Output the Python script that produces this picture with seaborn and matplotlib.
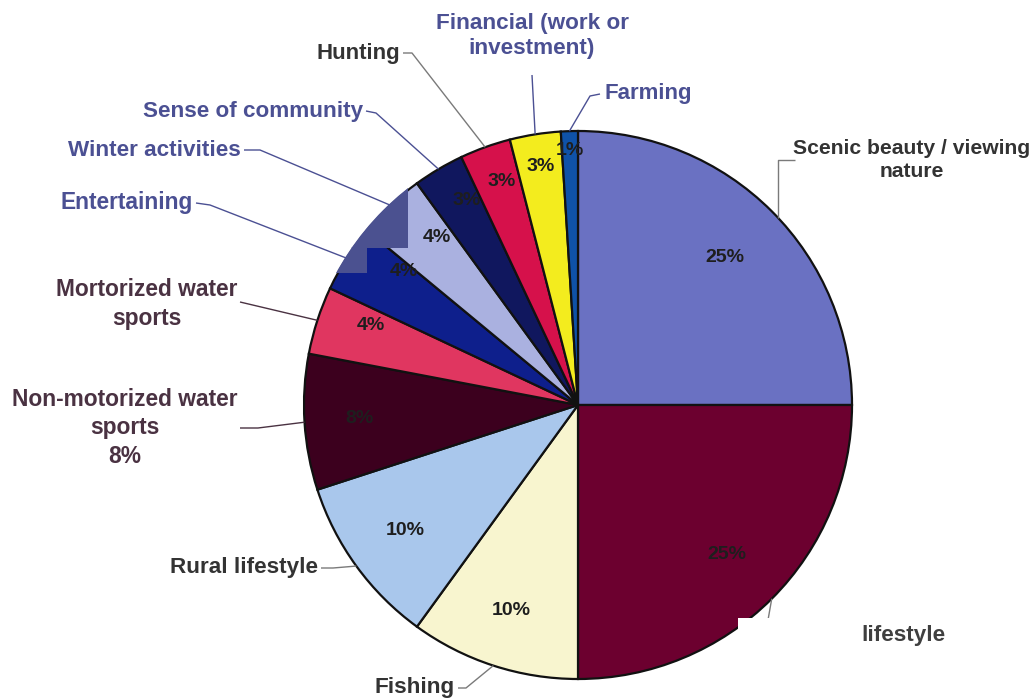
import numpy as np
import matplotlib
matplotlib.use("Agg")
import matplotlib.pyplot as plt
from matplotlib.patches import Rectangle, Circle
import seaborn as sns

# Share of respondents by main reason
categories = ["Scenic beauty / viewing\nnature", "lifestyle", "Fishing", "Rural lifestyle",
              "Non-motorized water\nsports\n8%", "Mortorized water\nsports", "Entertaining",
              "Winter activities", "Sense of community", "Hunting",
              "Financial (work or\ninvestment)", "Farming"]
shares = [25, 25, 10, 10, 8, 4, 4, 4, 3, 3, 3, 1]
pct_labels = ["25%", "25%", "10%", "10%", "8%", "4%", "4%", "4%", "3%", "3%", "3%", "1%"]
slice_colors = ["#6a71c2", "#6c002f", "#f8f5cf", "#a9c7ec", "#3c001e", "#e03660",
                "#0e1f8c", "#aab1e0", "#10175e", "#d6114b", "#f3ec1e", "#0f52a8"]

BLUE, GRAY, PLUM = "#4b5093", "#333333", "#4a3242"
label_colors = [GRAY, GRAY, GRAY, GRAY, PLUM, PLUM, BLUE, BLUE, BLUE, GRAY, BLUE, BLUE]
label_sizes = [15.2, 16.2, 16.2, 16.2, 16.4, 16.4, 16.4, 16.2, 16.2, 16.0, 16.2, 16.0]
# radial placement of the percentage text (fraction of radius)
pct_radius = [0.76, 0.77, 0.79, 0.78, 0.80, 0.81, 0.80, 0.80, 0.85, 0.86, 0.88, 0.93]
# small angular nudges of the percentage text (degrees, counter-clockwise)
pct_shift = [0, 0, 0, 0, 0, 3, 5, 3, 2, 1, 0, 0]

sns.set_theme(style="white")
plt.rcParams["font.family"] = ["Liberation Sans", "DejaVu Sans"]

W, H = 1035, 700
CX, CY, R = 578, 405, 274


def px(x, y):
    return (x - CX) / R, (CY - y) / R


fig = plt.figure(figsize=(W / 100, H / 100), dpi=100)
fig.patch.set_facecolor("white")
ax = fig.add_axes([0, 0, 1, 1])

wedges, _ = ax.pie(shares, colors=slice_colors, startangle=90, counterclock=False,
                   radius=1.0, wedgeprops=dict(edgecolor="#111111", linewidth=1.6))

ax.set_xlim(-CX / R, (W - CX) / R)
ax.set_ylim(-(H - CY) / R, CY / R)
ax.set_aspect("equal", adjustable="datalim")
ax.axis("off")

# faded print region over the upper-left slices
clip = Circle((0, 0), 1.006, transform=ax.transData)
for (x0, y0, x1, y1) in [(300, 150, 408, 248), (300, 247, 367, 273)]:
    (a, b), (c, d) = px(x0, y1), px(x1, y0)
    rect = Rectangle((a, b), c - a, d - b, facecolor="#4b5190", edgecolor="none", zorder=3)
    rect.set_clip_path(clip)
    ax.add_patch(rect)

# percentage text inside the slices
for w, lab, r, s in zip(wedges, pct_labels, pct_radius, pct_shift):
    ang = np.deg2rad((w.theta1 + w.theta2) / 2 - s)
    ax.text(r * np.cos(ang), r * np.sin(ang), lab, ha="center", va="center",
            fontsize=14, fontweight="bold", color="#1e1e1e", zorder=4)

# outside labels: (text x, text y, alignment, elbow point)
layout = [
    (912, 160, "center", (778, 160)),
    (902, 635, "center", (768, 620)),
    (455, 688, "right", (466, 688)),
    (318, 568, "right", (333, 568)),
    (125, 428, "center", (258, 428)),
    (147, 304, "center", (240, 302)),
    (193, 203, "right", (210, 205)),
    (241, 150, "right", (260, 150)),
    (363, 111, "right", (376, 113)),
    (400, 53, "right", (412, 53)),
    (532, 36, "center", (532, 75)),
    (604, 94, "left", (590, 96)),
]

for w, name, col, fs, (tx, ty, ha, elbow) in zip(wedges, categories, label_colors,
                                                  label_sizes, layout):
    ang = np.deg2rad((w.theta1 + w.theta2) / 2)
    anchor = (np.cos(ang), np.sin(ang))
    ex, ey = px(*elbow)
    if ha == "right":
        start = px(tx + 3, ty)
    elif ha == "left":
        start = px(tx - 4, ty)
    elif name.startswith("Scenic"):
        start = px(795, 160)
        anchor = (ex, np.sqrt(1 - ex ** 2))
    elif name == "lifestyle":
        start = px(768, 620)
    elif name.startswith("Non"):
        start = px(240, 428)
    elif name.startswith("Mort"):
        start = px(240, 302)
    else:
        start = px(532, 75)
    lc = "#7a7a7a" if col == GRAY else col
    ax.plot([start[0], ex, anchor[0]], [start[1], ey, anchor[1]], color=lc,
            linewidth=1.0, zorder=1, solid_capstyle="butt")
    if name == "lifestyle":
        continue
    x, y = px(tx, ty)
    ax.text(x, y, name, ha=ha, va="center", multialignment="center",
            fontsize=fs, fontweight="bold", color=col, linespacing=1.28, zorder=5)

# blank patch over the lower-right corner
(a, b), (c, d) = px(738, 700), px(1035, 618)
ax.add_patch(Rectangle((a, b), c - a, d - b, facecolor="white", edgecolor="none", zorder=4))
ax.text(*px(903, 635), "lifestyle", ha="center", va="center", fontsize=16.2,
        fontweight="bold", color="#3f3f3f", zorder=6)

fig.savefig("out.png", dpi=100, facecolor="white")
